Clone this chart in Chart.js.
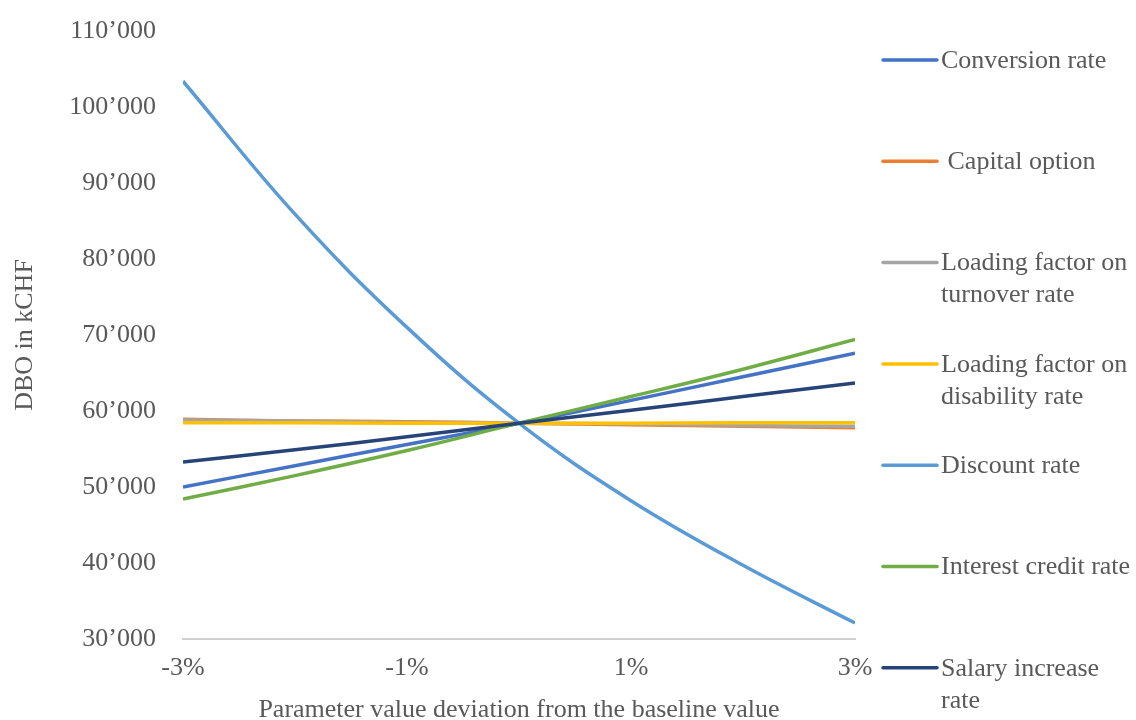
<!DOCTYPE html>
<html>
<head>
<meta charset="utf-8">
<script src="https://cdn.jsdelivr.net/npm/chart.js@4/dist/chart.umd.min.js"></script>
<style>
  html, body { margin: 0; padding: 0; background: #ffffff; }
  #wrap { width: 1136px; height: 720px; position: relative; }
</style>
</head>
<body>
<div id="wrap"><canvas id="chart" width="1136" height="720"></canvas></div>
<script>
// Deviation of each parameter from its baseline value, in percent
const deviations = [-3, -2, -1, 0, 1, 2, 3];
const xTickValues = [-3, -1, 1, 3];
const yTickValues = [30000, 40000, 50000, 60000, 70000, 80000, 90000, 100000, 110000];

// DBO in kCHF for each deviation
const conversionRate   = [50000, 52800, 55600, 58400, 61400, 64500, 67600];
const capitalOption    = [58900, 58700, 58600, 58400, 58200, 58000, 57800];
const turnoverLoading  = [58800, 58700, 58500, 58400, 58300, 58100, 58000];
const disabilityLoading= [58450, 58450, 58400, 58400, 58400, 58450, 58450];
const discountRate     = [103400, 85900, 71000, 58400, 48200, 39700, 32100];
const interestCredit   = [48400, 51500, 54800, 58400, 61900, 65500, 69400];
const salaryIncrease   = [53300, 54900, 56600, 58400, 60100, 61900, 63700];

const seriesLabels = [
  ['Conversion rate'],
  [' Capital option'],
  ['Loading factor on', 'turnover rate'],
  ['Loading factor on', 'disability rate'],
  ['Discount rate'],
  ['Interest credit rate'],
  ['Salary increase', 'rate']
];
const seriesValues = [conversionRate, capitalOption, turnoverLoading, disabilityLoading,
                      discountRate, interestCredit, salaryIncrease];
const seriesColors = ['#4472C4', '#ED7D31', '#A5A5A5', '#FFC000', '#5B9BD5', '#70AD47', '#264478'];

const FONT = '"Liberation Serif", "Times New Roman", serif';
const TEXT = '#595959';

const fmt = v => String(v).replace(/\B(?=(\d{3})+(?!\d))/g, '\u2019');

const datasets = seriesValues.map((vals, i) => ({
  label: seriesLabels[i].join(' '),
  data: deviations.map((x, j) => ({ x: x, y: vals[j] })),
  borderColor: seriesColors[i],
  backgroundColor: seriesColors[i],
  borderWidth: 3.5,
  pointRadius: 0,
  tension: 0.4,
  fill: false,
  order: seriesValues.length - i   // later series paint over earlier ones
}));

// Legend on the right: one sample line per series, text may wrap to two lines
const sideLegend = {
  id: 'sideLegend',
  afterDraw(chart) {
    const ctx = chart.ctx;
    ctx.save();
    ctx.font = '26px ' + FONT;
    ctx.fillStyle = TEXT;
    ctx.textBaseline = 'middle';
    ctx.textAlign = 'left';
    const x0 = 883, x1 = 937, tx = 941, top = 60, step = 101.3, lh = 32;
    seriesLabels.forEach((lines, i) => {
      const y = top + i * step;
      ctx.strokeStyle = seriesColors[i];
      ctx.lineWidth = 3.5;
      ctx.lineCap = 'round';
      ctx.beginPath();
      ctx.moveTo(x0, y);
      ctx.lineTo(x1, y);
      ctx.stroke();
      lines.forEach((t, k) => ctx.fillText(t, tx, y + 1 + k * lh));
    });
    ctx.restore();
  }
};

new Chart(document.getElementById('chart'), {
  type: 'line',
  data: { datasets: datasets },
  plugins: [sideLegend],
  options: {
    responsive: false,
    animation: false,
    events: [],
    layout: { padding: { top: 31, right: 281, bottom: 0, left: 0 } },
    plugins: { legend: { display: false }, tooltip: { enabled: false } },
    scales: {
      x: {
        type: 'linear',
        min: -3,
        max: 3,
        afterBuildTicks: s => { s.ticks = xTickValues.map(v => ({ value: v })); },
        afterFit: s => { s.height = 81; },
        grid: { display: false, drawTicks: false },
        border: { display: true, color: '#d0d0d0', width: 2 },
        ticks: {
          color: TEXT,
          font: { family: FONT, size: 26 },
          padding: 14,
          maxRotation: 0,
          callback: v => v + '%'
        },
        title: {
          display: true,
          text: 'Parameter value deviation from the baseline value',
          color: TEXT,
          font: { family: FONT, size: 26, lineHeight: 1 },
          padding: { top: 0, bottom: -3 }
        }
      },
      y: {
        type: 'linear',
        min: 30000,
        max: 110000,
        afterBuildTicks: s => { s.ticks = yTickValues.map(v => ({ value: v })); },
        afterFit: s => { s.width = 183; s.paddingTop = 0; s.paddingBottom = 0; },
        grid: { display: false, drawTicks: false },
        border: { display: false },
        ticks: {
          color: TEXT,
          font: { family: FONT, size: 26 },
          padding: 27,
          callback: v => fmt(v)
        },
        title: {
          display: true,
          text: 'DBO in kCHF',
          color: TEXT,
          font: { family: FONT, size: 26, lineHeight: 1 },
          padding: { top: 12, bottom: 0 }
        }
      }
    }
  }
});
</script>
</body>
</html>
